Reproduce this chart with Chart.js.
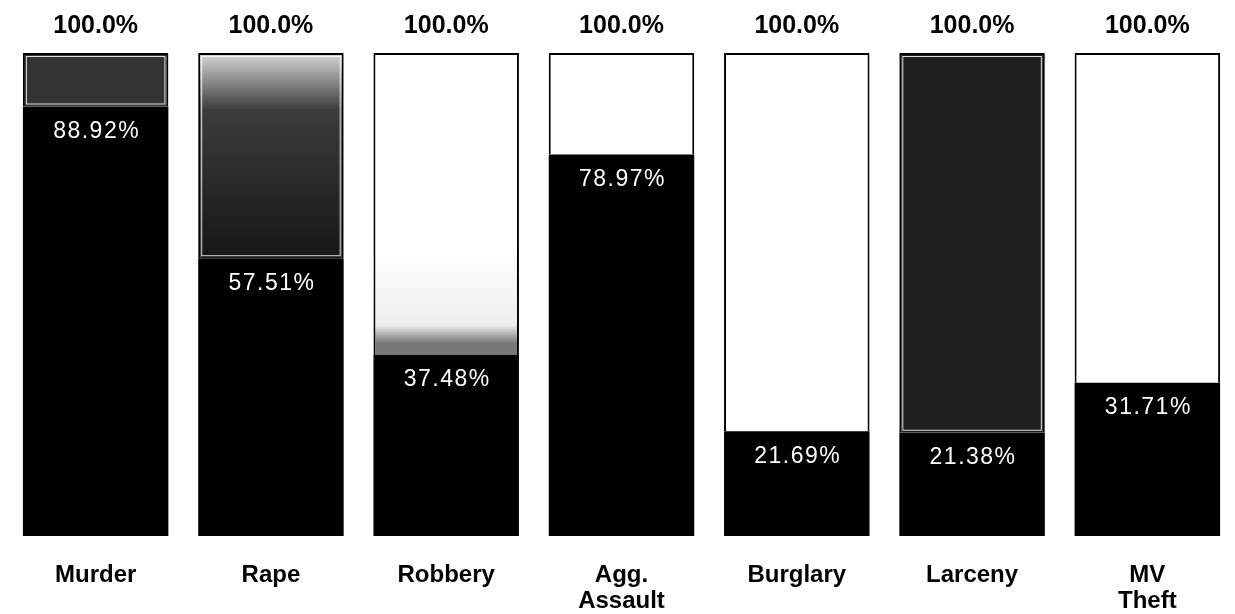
<!DOCTYPE html>
<html>
<head>
<meta charset="utf-8">
<script src="https://cdn.jsdelivr.net/npm/chart.js@4.4.0/dist/chart.umd.min.js"></script>
<style>
  body { margin: 0; background: #fff; }
  #wrap { width: 1235px; height: 614px; }
</style>
</head>
<body>
<div id="wrap"><canvas id="myChart"></canvas></div>
<script>
var categories = ['Murder', 'Rape', 'Robbery', ['Agg.', 'Assault'], 'Burglary', 'Larceny', ['MV', 'Theft']];
var shareValues = [88.92, 57.51, 37.48, 78.97, 21.69, 21.38, 31.71];
var restValues = [11.08, 42.49, 62.52, 21.03, 78.31, 78.62, 68.29];
var totalLabels = ['100.0%', '100.0%', '100.0%', '100.0%', '100.0%', '100.0%', '100.0%'];

// top part fill per bar (dark textured ones in the original)
var darkTops = [0, 1, 5];

function topFill(context) {
    var chart = context.chart;
    var i = context.dataIndex;
    var area = chart.chartArea;
    if (!area) return '#fff';
    var ctx = chart.ctx;
    if (i == 0) return '#333333';
    if (i == 5) return '#1f1f1f';
    if (i == 1) {
        var g = ctx.createLinearGradient(0, area.top, 0, area.top + 190);
        g.addColorStop(0, '#d8d8d8');
        g.addColorStop(0.3, '#3c3c3c');
        g.addColorStop(1, '#1a1a1a');
        return g;
    }
    if (i == 2) {
        var g2 = ctx.createLinearGradient(0, area.top + 200, 0, area.top + 290);
        g2.addColorStop(0, '#ffffff');
        g2.addColorStop(0.8, '#eeeeee');
        g2.addColorStop(1, '#777777');
        return g2;
    }
    return '#ffffff';
}

const barLabels = {
    id: 'barLabels',
    afterDatasetsDraw(chart) {
        const ctx = chart.ctx;
        const low = chart.getDatasetMeta(0).data;
        const high = chart.getDatasetMeta(1).data;
        ctx.save();
        // thin light inner line on the dark tops
        ctx.strokeStyle = 'rgba(255,255,255,0.85)';
        ctx.lineWidth = 1;
        darkTops.forEach((i) => {
            const b = high[i];
            ctx.strokeRect(b.x - b.width / 2 + 3.5, b.y + 3.5, b.width - 7, b.base - b.y - 6);
        });
        ctx.textAlign = 'center';
        ctx.textBaseline = 'middle';
        for (let i = 0; i < high.length; i++) {
            ctx.fillStyle = '#000';
            ctx.font = 'bold 25px "Liberation Sans", Arial, sans-serif';
            ctx.letterSpacing = '0px';
            ctx.fillText(totalLabels[i], high[i].x, high[i].y - 27);
            ctx.fillStyle = '#fff';
            ctx.font = '23px "Liberation Sans", Arial, sans-serif';
            ctx.letterSpacing = '1.5px';
            ctx.fillText(shareValues[i].toFixed(2) + '%', low[i].x + 1, low[i].y + 25);
        }
        ctx.restore();
    }
};

const config = {
    type: 'bar',
    data: {
        labels: categories,
        datasets: [{
            label: 'Share',
            data: shareValues,
            backgroundColor: '#000',
            borderWidth: 0
        }, {
            label: 'Rest',
            data: restValues,
            backgroundColor: topFill,
            borderColor: '#000',
            borderWidth: 2
        }]
    },
    options: {
        responsive: true,
        maintainAspectRatio: false,
        animation: false,
        datasets: {
            bar: { barPercentage: 0.83, categoryPercentage: 1 }
        },
        layout: { padding: { top: 53, left: 8, right: 0, bottom: 0 } },
        plugins: {
            legend: { display: false },
            tooltip: { enabled: false }
        },
        scales: {
            x: {
                stacked: true,
                grid: { display: false, drawTicks: false },
                border: { display: false },
                afterFit: (scale) => { scale.height = 78; },
                ticks: {
                    color: '#000',
                    padding: 26,
                    maxRotation: 0,
                    autoSkip: false,
                    font: { family: '"Liberation Sans", Arial, sans-serif', size: 24, weight: 'bold', lineHeight: 1.08 }
                }
            },
            y: {
                stacked: true,
                display: false,
                min: 0,
                max: 100
            }
        }
    },
    plugins: [barLabels]
};

const myChart = new Chart(document.getElementById('myChart'), config);
</script>
</body>
</html>
